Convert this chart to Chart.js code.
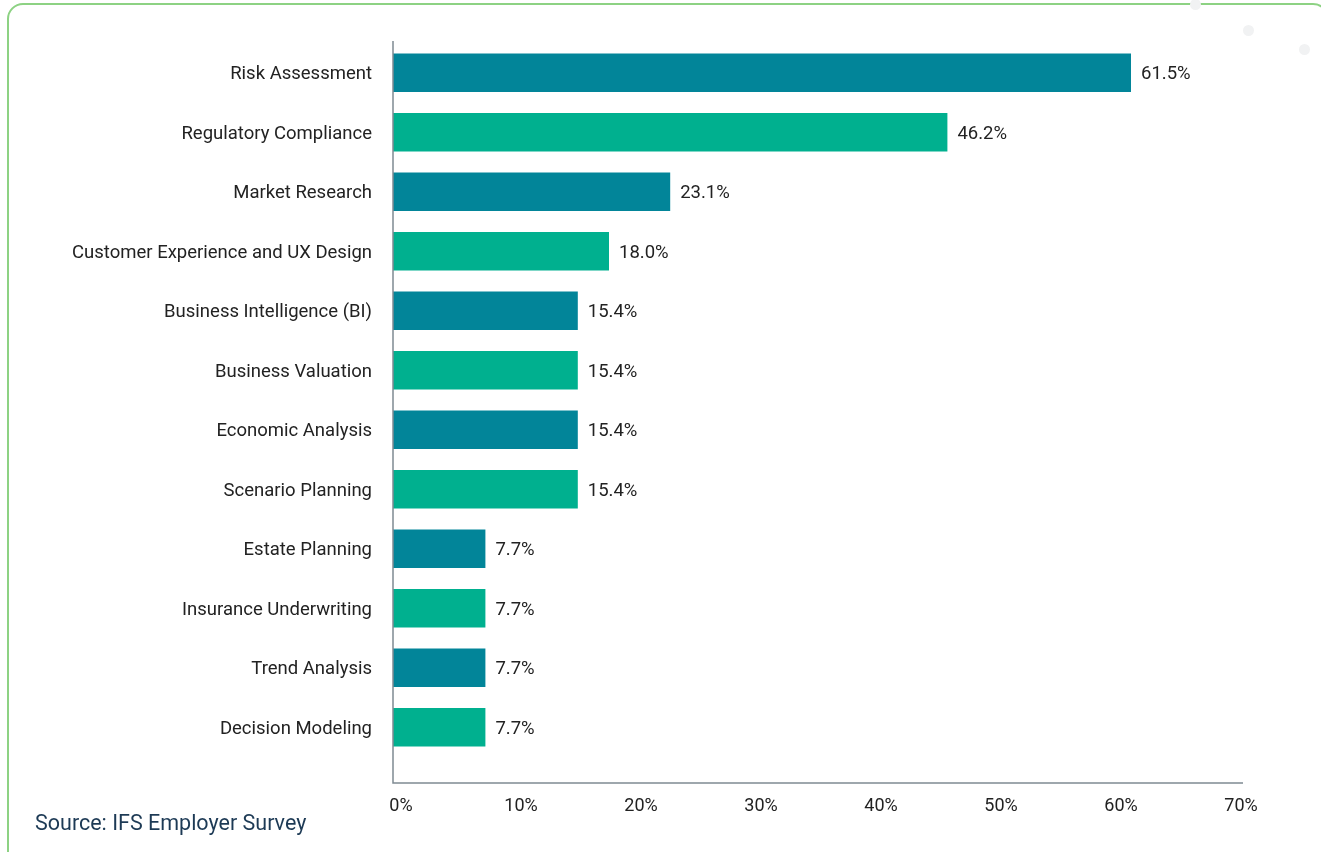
<!DOCTYPE html>
<html>
<head>
<meta charset="utf-8">
<script src="https://cdn.jsdelivr.net/npm/chart.js@4.4.1/dist/chart.umd.min.js"></script>
<style>
  html, body { margin: 0; padding: 0; background: #fff; overflow: hidden; }
  body { width: 1321px; height: 852px; position: relative; font-family: Roboto, sans-serif; }
  .card {
    position: absolute; left: 7px; top: 3px; width: 1322px; height: 870px;
    border: 2px solid #8dd283; border-radius: 16px; box-sizing: border-box;
  }
  .dot { position: absolute; width: 11px; height: 11px; border-radius: 50%; background: #f1f2f3; }
  #skillsChart { position: absolute; left: 0; top: 0; }
  .source {
    position: absolute; left: 35px; top: 810px; font-size: 21.5px; color: #1d3a55;
  }
</style>
</head>
<body>
<div class="card"></div>
<div class="dot" style="left:1190px; top:-1px"></div>
<div class="dot" style="left:1243px; top:25px"></div>
<div class="dot" style="left:1299px; top:44px"></div>
<canvas id="skillsChart" width="1321" height="852"></canvas>
<div class="source">Source: IFS Employer Survey</div>
<script>
const categories = [
  "Risk Assessment",
  "Regulatory Compliance",
  "Market Research",
  "Customer Experience and UX Design",
  "Business Intelligence (BI)",
  "Business Valuation",
  "Economic Analysis",
  "Scenario Planning",
  "Estate Planning",
  "Insurance Underwriting",
  "Trend Analysis",
  "Decision Modeling"
];
const shares = [61.5, 46.2, 23.1, 18.0, 15.4, 15.4, 15.4, 15.4, 7.7, 7.7, 7.7, 7.7];
const xTicks = [0, 10, 20, 30, 40, 50, 60, 70];

const palette = ["#028599", "#00b08f"];
const axisColor = "#7f8a93";

// left + bottom axis lines, bottom one sits a bit below the last bar row
const axisLines = {
  id: "axisLines",
  afterDraw(chart) {
    const { ctx, chartArea } = chart;
    const baseY = chartArea.bottom + 26;
    ctx.save();
    ctx.strokeStyle = axisColor;
    ctx.lineWidth = 1.5;
    ctx.beginPath();
    ctx.moveTo(chartArea.left, chartArea.top - 2);
    ctx.lineTo(chartArea.left, baseY);
    ctx.lineTo(chartArea.right + 10, baseY);
    ctx.stroke();
    ctx.restore();
  }
};

// value labels to the right of each bar
const valueLabels = {
  id: "valueLabels",
  afterDatasetsDraw(chart) {
    const { ctx } = chart;
    const meta = chart.getDatasetMeta(0);
    ctx.save();
    ctx.font = "18.5px Roboto";
    ctx.fillStyle = "#222";
    ctx.textAlign = "left";
    ctx.textBaseline = "middle";
    meta.data.forEach((bar, i) => {
      ctx.fillText(shares[i].toFixed(1) + "%", bar.x + 10, bar.y + 2);
    });
    ctx.restore();
  }
};

Chart.defaults.font.family = "Roboto";
Chart.defaults.font.size = 18.5;
Chart.defaults.color = "#222";

new Chart(document.getElementById("skillsChart"), {
  type: "bar",
  data: {
    labels: categories,
    datasets: [
      {
        data: shares,
        backgroundColor: categories.map((_, i) => palette[i % 2]),
        barPercentage: 0.65,
        categoryPercentage: 1
      }
    ]
  },
  options: {
    indexAxis: "y",
    responsive: false,
    animation: false,
    layout: { padding: { top: 43, right: 88, bottom: 0, left: 0 } },
    plugins: { legend: { display: false }, tooltip: { enabled: false } },
    scales: {
      x: {
        min: 0,
        max: 70,
        afterBuildTicks: (scale) => {
          scale.ticks = xTicks.map((v) => ({ value: v }));
        },
        afterFit: (scale) => { scale.height = 95; },
        grid: { display: false, drawTicks: false },
        border: { display: false },
        ticks: {
          padding: 39,
          labelOffset: 8,
          maxRotation: 0,
          font: { size: 18 },
          callback: (v) => v + "%"
        }
      },
      y: {
        afterFit: (scale) => { scale.width = 393; },
        grid: { display: false, drawTicks: false },
        border: { display: false },
        ticks: { padding: 21, labelOffset: 2, autoSkip: false }
      }
    }
  },
  plugins: [axisLines, valueLabels]
});
</script>
</body>
</html>
